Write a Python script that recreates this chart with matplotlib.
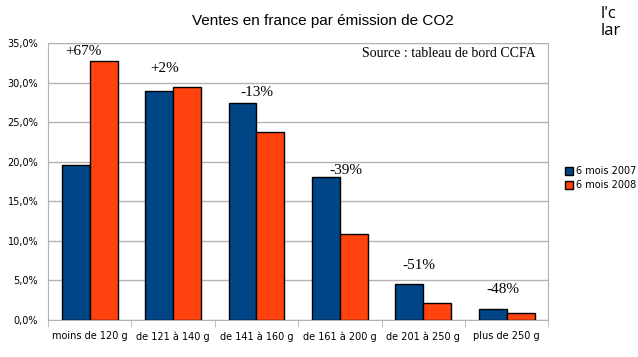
import matplotlib
matplotlib.use("Agg")
import matplotlib.pyplot as plt
import numpy as np
from matplotlib.ticker import FuncFormatter, FixedLocator

categories = ["moins de 120 g", "de 121 à 140 g", "de 141 à 160 g",
              "de 161 à 200 g", "de 201 à 250 g", "plus de 250 g"]
s2007 = [19.6, 28.9, 27.4, 18.1, 4.6, 1.4]
s2008 = [32.7, 29.4, 23.8, 10.9, 2.2, 0.85]
changes = ["+67%", "+2%", "-13%", "-39%", "-51%", "-48%"]
series_names = ["6 mois 2007", "6 mois 2008"]

label_offsets = [2, 9, 3, 0, 8, 9]   # points above tallest bar
label_dx = [-0.08, -0.1, 0.0, 0.07, -0.05, -0.05]

fig = plt.figure(figsize=(6.38, 3.57), dpi=100)
ax = fig.add_axes([0.0752, 0.1036, 0.7842, 0.776])

x = np.arange(len(categories))
w = 0.335
ax.bar(x - w/2, s2007, w, color="#004586", edgecolor="black", linewidth=1.0,
       label=series_names[0], zorder=3)
ax.bar(x + w/2, s2008, w, color="#ff420e", edgecolor="black", linewidth=1.0,
       label=series_names[1], zorder=3)

ax.set_xlim(-0.5, len(categories) - 0.5)
ax.set_ylim(0, 35)
ax.set_yticks(np.arange(0, 35.1, 5))
ax.yaxis.set_major_formatter(FuncFormatter(lambda v, p: f"{v:.1f}%".replace(".", ",")))
ax.grid(axis="y", color="#b3b3b3", linewidth=1.0, zorder=0)
ax.set_xticks(x)
ax.set_xticklabels(categories)
ax.xaxis.set_minor_locator(FixedLocator(np.arange(-0.5, len(categories), 1.0)))
ax.tick_params(axis="x", which="major", length=0, labelsize=7, pad=8)
ax.tick_params(axis="x", which="minor", length=5, color="#b3b3b3")
ax.tick_params(axis="y", length=0, labelsize=7, pad=7)
for sp in ax.spines.values():
    sp.set_color("#b3b3b3")

for i, (a, b) in enumerate(zip(s2007, s2008)):
    ax.annotate(changes[i], (x[i] + label_dx[i], max(a, b)), xytext=(0, label_offsets[i]),
                textcoords="offset points", ha="center", va="bottom",
                fontsize=11, family="Liberation Serif")

ax.text(0.975, 0.985, "Source : tableau de bord CCFA", transform=ax.transAxes,
        ha="right", va="top", fontsize=10, family="Liberation Serif")

fig.text(0.506, 0.94, "Ventes en france par émission de CO2", ha="center",
         va="center", fontsize=11, family="Liberation Sans")

leg = fig.legend(loc="upper left", bbox_to_anchor=(0.885, 0.535), frameon=False,
                 fontsize=7, handlelength=0.9, handleheight=0.9, handletextpad=0.3,
                 labelspacing=0.4, borderaxespad=0, borderpad=0)

fig.text(0.942, 0.962, "l'c", fontsize=12, family="Open Sans", va="center")
fig.text(0.942, 0.912, "lar", fontsize=12, family="Open Sans", va="center")

fig.savefig("out.png", dpi=100)
